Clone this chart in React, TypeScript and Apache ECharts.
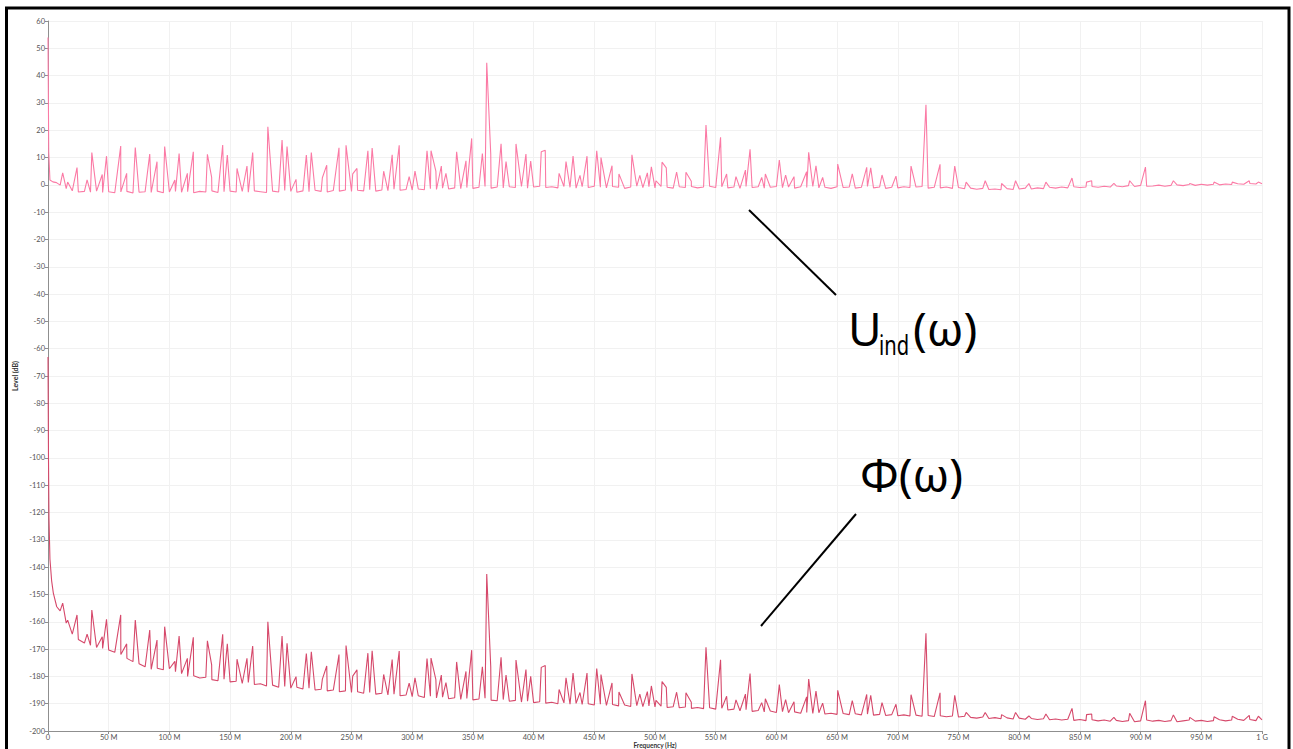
import React, { useEffect, useRef } from "react";
import * as echarts from "echarts";

// Frequency ticks (MHz) and level ticks (dB)
const X_MIN = 0;
const X_MAX = 1000;
const X_STEP = 50;
const Y_MIN = -200;
const Y_MAX = 60;
const Y_STEP = 10;

// Early (0..10 MHz) samples, [MHz, dB]
const upperEarly: number[][] = [[0, 54], [0.6, 12], [1.6, 1.8], [4, 1.1], [7, 0.8]];
const lowerEarly: number[][] = [[0, -63], [0.4, -100], [0.8, -122], [1.6, -137], [3, -145], [4.4, -149.5], [7.2, -154.5]];

// Baseline sample grid: 10 MHz .. 1000 MHz every 5 MHz
const baseFreqs: number[] = Array.from({ length: 199 }, (_, i) => 10 + i * 5);

const upperBase: number[] = [
  -0.1, -1.4, -2.2, -2.6, -2.4, -2.7, -2.3, -2.8, -2.5, -2.9,
  -2.6, -2.4, -3.0, -2.7, -2.5, -2.8, -2.3, -2.9, -2.6, -2.4,
  -2.7, -2.5, -2.9, -2.4, -2.6, -2.2, -2.8, -2.5, -2.3, -2.6,
  -2.4, -2.7, -2.2, -2.5, -2.8, -2.3, -2.6, -2.1, -2.4, -2.7,
  -2.2, -2.5, -2.0, -2.4, -2.6, -2.1, -2.3, -1.9, -2.4, -2.0,
  -2.2, -1.8, -2.3, -1.9, -2.1, -1.6, -2.0, -1.7, -1.9, -1.5,
  -1.8, -1.4, -1.7, -1.2, -1.5, -1.1, -1.4, -1.0, -1.3, -0.9,
  -0.6, -1.2, -0.8, -1.1, -0.7, -1.0, -0.6, -1.2, -0.8, -0.5,
  -1.0, -0.7, -1.1, -0.6, -0.9, -1.2, -0.7, -1.0, -0.5, -0.9,
  -1.1, -0.6, -0.9, -1.3, -0.8, -0.5, -1.0, -0.7, -1.1, -0.6,
  -0.9, -1.2, -0.7, -1.0, -0.6, -1.1, -0.8, -0.5, -1.0, -0.7,
  -1.1, -0.8, -1.3, -0.6, -1.0, -0.7, -1.2, -0.9, -0.6, -1.0,
  -0.8, -1.2, -0.7, -1.0, -0.6, -1.1, -0.9, -1.3, -0.7, -1.0,
  -0.8, -1.2, -0.9, -0.6, -1.1, -0.8, -1.3, -0.9, -1.1, -0.7,
  -1.0, -0.8, -0.6, -1.2, -0.9, -1.1, -0.8, -1.3, -1.0, -1.4,
  -1.2, -1.6, -1.3, -1.7, -1.5, -1.8, -1.4, -1.7, -1.5, -1.2,
  -1.5, -1.1, -1.4, -0.9, -1.2, -0.8, -1.1, -0.7, -1.0, -0.8,
  -0.6, -0.9, -0.5, -0.8, -0.4, -0.7, -0.3, -0.6, -0.2, -0.5,
  -0.4, -0.1, -0.5, -0.2, 0.0, -0.3, 0.1, -0.2, 0.2, -0.1,
  0.2, 0.0, 0.3, 0.1, 0.4, 0.2, 0.5, 0.3, 0.4,
];

const lowerBase: number[] = [
  -156.0, -160.5, -164.5, -166.5, -167.8, -168.6, -169.4, -169.8, -170.3, -171.2,
  -172.0, -173.4, -174.6, -175.4, -176.5, -177.4, -177.0, -177.6, -177.2, -178.3,
  -179.0, -180.0, -179.8, -180.6, -180.3, -181.2, -181.6, -181.0, -182.0, -181.8,
  -182.6, -182.2, -183.0, -182.7, -183.5, -183.2, -184.0, -183.7, -184.3, -184.0,
  -184.6, -184.3, -185.0, -184.7, -185.3, -185.0, -185.6, -185.3, -185.9, -185.6,
  -186.2, -185.9, -186.5, -186.2, -186.8, -186.5, -187.1, -186.8, -187.4, -187.1,
  -187.7, -187.3, -187.9, -187.6, -188.2, -187.8, -188.4, -188.1, -188.6, -188.3,
  -188.0, -188.7, -188.9, -188.5, -189.1, -188.8, -189.4, -189.1, -189.6, -189.3,
  -189.8, -189.5, -190.0, -189.7, -190.2, -189.9, -190.3, -190.0, -190.5, -190.2,
  -190.6, -190.3, -190.8, -190.5, -191.0, -190.7, -191.1, -190.8, -191.2, -190.9,
  -191.4, -191.1, -191.5, -191.2, -191.7, -191.4, -191.8, -191.5, -192.0, -191.7,
  -192.3, -192.0, -192.6, -192.2, -192.8, -192.5, -193.0, -192.7, -193.2, -192.9,
  -193.3, -193.0, -193.5, -193.2, -193.6, -193.3, -193.8, -193.5, -193.9, -193.6,
  -194.0, -193.7, -194.1, -193.8, -194.2, -193.9, -194.3, -194.0, -194.4, -194.1,
  -194.5, -194.2, -194.6, -194.3, -194.7, -194.4, -194.8, -194.5, -194.9, -194.6,
  -195.0, -195.3, -194.9, -195.4, -195.1, -195.5, -195.2, -195.6, -195.3, -195.7,
  -195.4, -195.8, -195.5, -195.9, -195.6, -196.0, -195.7, -196.1, -195.8, -196.2,
  -195.9, -196.3, -196.0, -196.4, -196.1, -196.5, -196.2, -196.6, -196.3, -196.0,
  -196.4, -196.1, -196.5, -196.2, -196.6, -196.3, -196.0, -196.4, -196.1, -196.5,
  -196.2, -195.9, -196.3, -196.0, -195.7, -196.1, -195.8, -196.2, -195.9,
];

// Spectral lines (MHz) and their levels in each trace (dB)
const peakFreqs: number[] = [
  12.1, 16.2, 23.9, 32.2, 36.1, 44.7, 48.2, 59.9, 64.8, 71.9,
  83.8, 89.8, 96.1, 98.0, 104.5, 108.0, 114.8, 119.7, 131.3, 134.8,
  143.9, 147.7, 155.7, 163.9, 168.6, 181.1, 192.8, 196.9, 204.3, 212.8,
  216.9, 226.0, 229.6, 239.7, 245.5, 251.0, 254.5, 263.5, 267.0, 276.5,
  283.5, 289.3, 297.5, 302.3, 312.2, 315.5, 319.5, 324.0, 327.8, 336.6,
  344.3, 349.0, 357.8, 361.4, 364.7, 373.2, 377.3, 385.5, 393.7, 397.6,
  406.3, 409.6, 421.0, 426.7, 432.5, 438.2, 444.0, 452.0, 455.5, 464.6,
  470.3, 481.0, 487.5, 493.7, 497.0, 500.8, 505.8, 509.3, 517.8, 525.5,
  529.9, 542.0, 554.0, 559.0, 566.7, 574.5, 578.3, 587.9, 590.9, 602.4,
  607.6, 614.5, 624.9, 626.6, 632.6, 638.1, 650.5, 662.5, 674.4, 677.7,
  687.0, 698.5, 710.9, 723.2, 734.8, 746.9, 756.3, 772.0, 785.5, 797.0,
  808.0, 822.0, 843.5, 855.5, 859.7, 878.0, 891.0, 904.0, 927.0, 940.5,
  960.5, 975.5, 989.5, 997.0,
];

const upperPeaks: number[] = [
  4.4, 1.0, 6.3, 1.8, 11.8, 3.8, 10.5, 14.2, 4.2, 13.7,
  11.3, 8.5, 14.0, 6.0, 1.8, 11.5, 4.2, 12.1, 11.2, 2.7,
  14.6, 10.9, 6.0, 6.9, 11.8, 21.3, 16.4, 14.0, 2.0, 10.9,
  11.8, 2.6, 7.2, 13.6, 14.5, 4.0, 6.0, 12.5, 13.5, 5.0,
  11.0, 14.5, 3.0, 5.0, 12.5, 12.5, 5.0, 6.9, 4.2, 12.1,
  8.8, 17.0, 11.5, 44.7, 11.3, 15.0, 8.5, 15.0, 11.3, 8.7,
  12.1, 12.7, 4.2, 8.5, 10.5, 3.5, 10.5, 12.5, 10.0, 7.0,
  4.0, 11.0, 3.5, 4.4, 6.6, 1.5, 8.3, 6.2, 4.7, 4.6,
  1.3, 21.9, 17.4, 4.0, 3.0, 5.4, 13.0, 2.7, 4.0, 9.1,
  3.6, 3.0, 4.8, 11.9, 7.0, 2.7, 7.6, 4.0, 6.4, 6.2,
  3.6, 3.2, 6.9, 29.3, 7.5, 6.9, 1.0, 1.5, 0.5, 1.5,
  0.5, 1.0, 2.5, 1.0, 1.5, 0.5, 1.5, 6.5, 1.5, 0.5,
  1.0, 1.0, 1.5, 1.0,
];

const lowerPeaks: number[] = [
  -153.2, -159.4, -157.5, -164.5, -155.7, -165.5, -159.1, -157.5, -168.1, -159.4,
  -163.0, -166.7, -161.8, -169.3, -174.5, -165.2, -173.4, -165.7, -167.0, -175.8,
  -164.6, -168.1, -173.7, -173.4, -168.9, -160.0, -165.2, -167.9, -180.1, -171.6,
  -171.0, -181.0, -176.2, -172.0, -168.7, -179.9, -177.6, -171.5, -170.6, -179.3,
  -173.8, -170.7, -182.5, -180.5, -173.5, -173.3, -181.2, -179.5, -182.3, -174.7,
  -178.2, -170.4, -176.5, -142.5, -176.5, -173.0, -179.5, -174.0, -177.5, -180.0,
  -176.7, -176.0, -184.8, -180.5, -178.8, -185.9, -178.8, -177.1, -179.3, -182.4,
  -185.7, -179.1, -186.5, -185.6, -183.5, -188.8, -181.9, -184.0, -185.8, -186.0,
  -189.5, -169.3, -173.9, -187.3, -188.6, -186.5, -179.0, -189.6, -188.2, -183.0,
  -188.5, -189.3, -187.5, -181.0, -185.4, -189.8, -185.1, -188.9, -186.6, -186.9,
  -189.6, -190.2, -186.7, -164.2, -186.0, -186.9, -193.2, -193.2, -194.0, -193.2,
  -194.5, -193.8, -191.7, -194.0, -193.8, -195.0, -193.5, -188.9, -194.1, -195.0,
  -194.8, -194.6, -194.3, -194.6,
];

const buildTrace = (early: number[][], base: number[], peaks: number[]) =>
  [
    ...early,
    ...baseFreqs.map((f, i) => [f, base[i]]),
    ...peakFreqs.map((f, i) => [f, peaks[i]]),
  ].sort((a, b) => a[0] - b[0]);

const fmtX = (v: number) => (v === 0 ? "0" : v === 1000 ? "1 G" : `${v} M`);

const FONT = "Lato, 'Noto Sans', sans-serif";
const AXIS_COLOR = "#8f8f8f";
const GRID_COLOR = "#f1f1f1";

export default function App() {
  const ref = useRef<HTMLDivElement>(null);

  useEffect(() => {
    const chart = echarts.init(ref.current!, null, { renderer: "svg" });
    chart.setOption({
      animation: false,
      backgroundColor: "#ffffff",
      grid: { left: 48, top: 21, right: 31, bottom: 18, containLabel: false, outerBoundsMode: "none" },
      xAxis: {
        type: "value",
        min: X_MIN,
        max: X_MAX,
        interval: X_STEP,
        axisLine: { show: true, onZero: false, lineStyle: { color: AXIS_COLOR, width: 1 } },
        axisTick: { show: true, length: 3, lineStyle: { color: AXIS_COLOR } },
        axisLabel: { fontSize: 7.5, color: "#555", margin: 2, fontFamily: FONT, formatter: fmtX, showMaxLabel: true, showMinLabel: true },
        splitLine: { show: true, lineStyle: { color: GRID_COLOR, width: 1 } },
      },
      yAxis: {
        type: "value",
        min: Y_MIN,
        max: Y_MAX,
        interval: Y_STEP,
        name: "Level (dB)",
        nameLocation: "middle",
        nameGap: 26,
        nameRotate: 90,
        nameTextStyle: { fontSize: 7, fontWeight: "bold", color: "#333", fontFamily: FONT },
        axisLine: { show: true, onZero: false, lineStyle: { color: AXIS_COLOR, width: 1 } },
        axisTick: { show: true, length: 3, lineStyle: { color: AXIS_COLOR } },
        axisLabel: { fontSize: 7.5, color: "#555", margin: 3, fontFamily: FONT },
        splitLine: { show: true, lineStyle: { color: GRID_COLOR, width: 1 } },
      },
      series: [
        {
          name: "U_ind",
          type: "line",
          data: buildTrace(upperEarly, upperBase, upperPeaks),
          showSymbol: false,
          symbol: "none",
          lineStyle: { color: "#fb7aa5", width: 1.1 },
          z: 3,
        },
        {
          name: "Phi",
          type: "line",
          data: buildTrace(lowerEarly, lowerBase, lowerPeaks),
          showSymbol: false,
          symbol: "none",
          lineStyle: { color: "#d6496b", width: 1.1 },
          z: 3,
        },
      ],
      graphic: [
        {
          type: "rect",
          silent: true,
          z: 100,
          shape: { x: 6.5, y: 8, width: 1282.5, height: 780 },
          style: { fill: "none", stroke: "#000", lineWidth: 3 },
        },
        {
          type: "text",
          silent: true,
          z: 50,
          x: 655,
          y: 745,
          style: { text: "Frequency (Hz)", font: "bold 6.5px Lato, 'Noto Sans', sans-serif", fill: "#333", align: "center", verticalAlign: "middle" },
        },
        {
          type: "line",
          silent: true,
          z: 50,
          shape: { x1: 749, y1: 210, x2: 836, y2: 295 },
          style: { stroke: "#000", lineWidth: 2 },
        },
        {
          type: "line",
          silent: true,
          z: 50,
          shape: { x1: 856, y1: 514, x2: 761, y2: 626 },
          style: { stroke: "#000", lineWidth: 2 },
        },
        {
          type: "text",
          silent: true,
          z: 50,
          x: 848,
          y: 328,
          style: { text: "U", font: "46px 'Noto Sans'", fill: "#000", align: "left", verticalAlign: "middle" },
        },
        {
          type: "text",
          silent: true,
          z: 50,
          x: 879,
          y: 344,
          scaleX: 0.72,
          style: { text: "ind", font: "28px 'Noto Sans'", fill: "#000", align: "left", verticalAlign: "middle" },
        },
        {
          type: "text",
          silent: true,
          z: 50,
          x: 913,
          y: 328,
          style: { text: "(ω)", font: "46px 'Noto Sans'", fill: "#000", align: "left", verticalAlign: "middle" },
        },
        {
          type: "text",
          silent: true,
          z: 50,
          x: 860,
          y: 474,
          style: { text: "Φ(ω)", font: "46px 'Noto Sans'", fill: "#000", align: "left", verticalAlign: "middle" },
        },
      ],
    });
    return () => chart.dispose();
  }, []);

  return (
    <div
      ref={ref}
      style={{ position: "fixed", left: 0, top: 0, width: 1293, height: 749, background: "#fff" }}
    />
  );
}
